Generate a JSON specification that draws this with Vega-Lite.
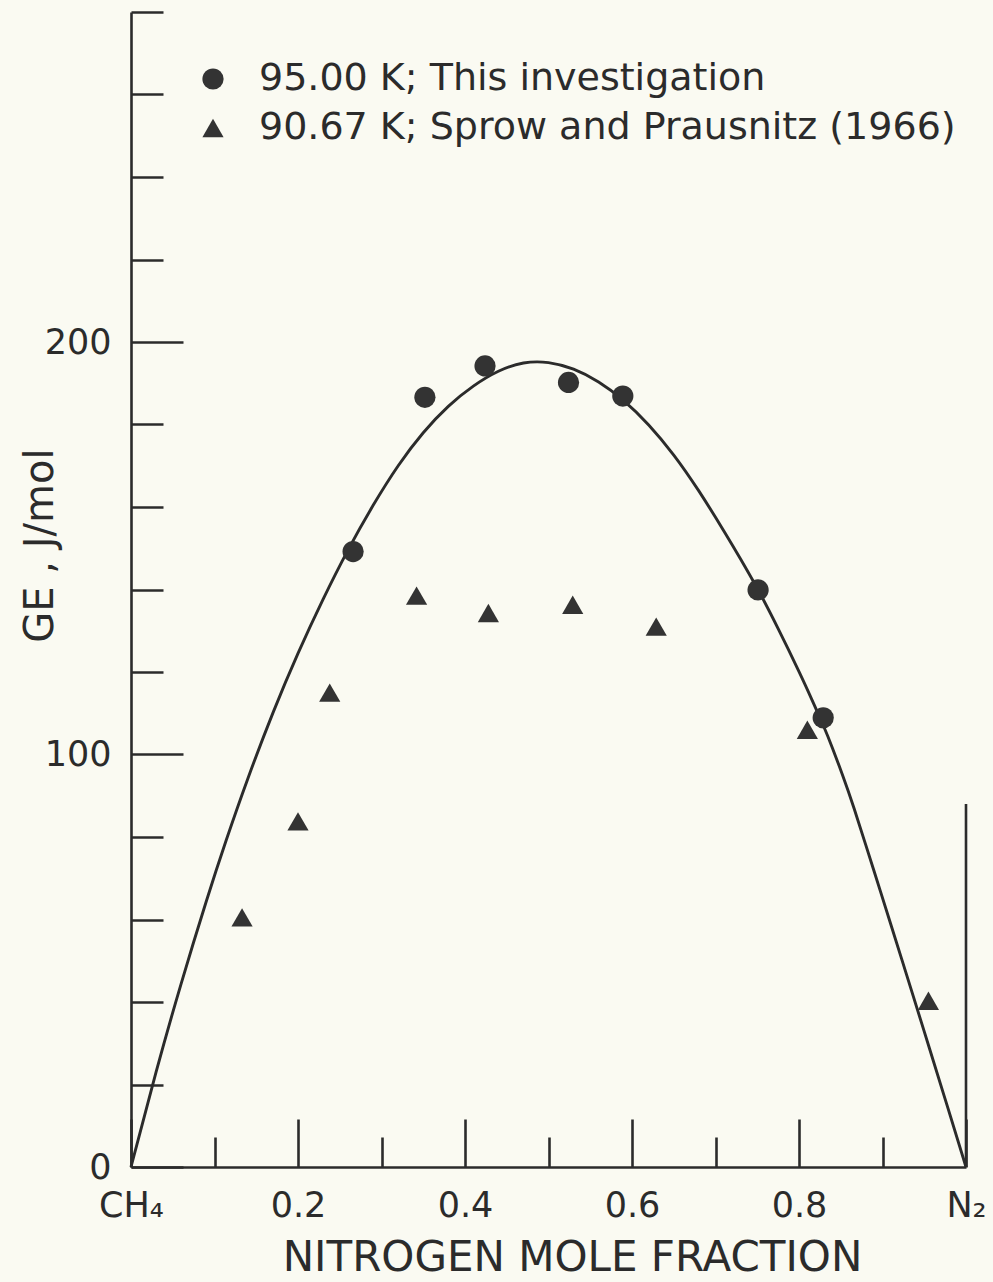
{
  "$schema": "https://vega.github.io/schema/vega-lite/v6.json",
  "width": 835,
  "height": 1155,
  "autosize": "none",
  "padding": {"left": 131, "top": 12, "right": 27, "bottom": 115},
  "background": "#fafaf2",
  "config": {
    "view": {"stroke": null},
    "font": "DejaVu Sans"
  },
  "datasets": {
    "curve": [
      {"x": 0, "g": 0},
      {"x": 0.03, "g": 23.0},
      {"x": 0.06, "g": 44.4},
      {"x": 0.09, "g": 64.3},
      {"x": 0.114, "g": 79.2},
      {"x": 0.14, "g": 94.2},
      {"x": 0.17, "g": 110.1},
      {"x": 0.2, "g": 124.5},
      {"x": 0.23, "g": 137.6},
      {"x": 0.26, "g": 149.6},
      {"x": 0.29, "g": 160.4},
      {"x": 0.32, "g": 170.0},
      {"x": 0.35, "g": 178.0},
      {"x": 0.38, "g": 184.4},
      {"x": 0.41, "g": 189.3},
      {"x": 0.44, "g": 192.9},
      {"x": 0.47, "g": 194.9},
      {"x": 0.5, "g": 195.0},
      {"x": 0.53, "g": 193.4},
      {"x": 0.56, "g": 190.3},
      {"x": 0.59, "g": 185.8},
      {"x": 0.62, "g": 179.9},
      {"x": 0.65, "g": 172.6},
      {"x": 0.68, "g": 163.9},
      {"x": 0.71, "g": 154.2},
      {"x": 0.73, "g": 147.4},
      {"x": 0.751, "g": 139.9},
      {"x": 0.775, "g": 130.5},
      {"x": 0.8, "g": 120.1},
      {"x": 0.815, "g": 113.5},
      {"x": 0.829, "g": 107.1},
      {"x": 0.84, "g": 101.6},
      {"x": 0.852, "g": 95.1},
      {"x": 0.866, "g": 86.9},
      {"x": 0.889, "g": 72.3},
      {"x": 0.91, "g": 58.8},
      {"x": 0.937, "g": 41.3},
      {"x": 0.956, "g": 28.9},
      {"x": 0.978, "g": 14.5},
      {"x": 1.0, "g": 0}
    ],
    "points": [
      {"series": "95.00 K; This investigation", "x": 0.266, "g": 149.2},
      {"series": "95.00 K; This investigation", "x": 0.352, "g": 186.6},
      {"series": "95.00 K; This investigation", "x": 0.424, "g": 194.2},
      {"series": "95.00 K; This investigation", "x": 0.524, "g": 190.2},
      {"series": "95.00 K; This investigation", "x": 0.589, "g": 186.9},
      {"series": "95.00 K; This investigation", "x": 0.751, "g": 139.9},
      {"series": "95.00 K; This investigation", "x": 0.829, "g": 108.9},
      {"series": "90.67 K; Sprow and Prausnitz (1966)", "x": 0.133, "g": 60.5},
      {"series": "90.67 K; Sprow and Prausnitz (1966)", "x": 0.2, "g": 83.8},
      {"series": "90.67 K; Sprow and Prausnitz (1966)", "x": 0.238, "g": 115.0},
      {"series": "90.67 K; Sprow and Prausnitz (1966)", "x": 0.342, "g": 138.5},
      {"series": "90.67 K; Sprow and Prausnitz (1966)", "x": 0.428, "g": 134.3},
      {"series": "90.67 K; Sprow and Prausnitz (1966)", "x": 0.529, "g": 136.3},
      {"series": "90.67 K; Sprow and Prausnitz (1966)", "x": 0.629, "g": 131.0},
      {"series": "90.67 K; Sprow and Prausnitz (1966)", "x": 0.81, "g": 106.0},
      {"series": "90.67 K; Sprow and Prausnitz (1966)", "x": 0.955, "g": 40.3}
    ],
    "frame": [{"x": 1, "y": 0, "y2": 88}]
  },
  "layer": [
    {
      "data": {"name": "curve"},
      "mark": {"type": "line", "interpolate": "natural", "color": "#2b2b2b", "strokeWidth": 2.9},
      "encoding": {
        "x": {
          "field": "x", "type": "quantitative",
          "scale": {"domain": [0, 1], "nice": false, "zero": false},
          "axis": {
            "values": [0, 0.1, 0.2, 0.3, 0.4, 0.5, 0.6, 0.7, 0.8, 0.9, 1],
            "grid": false,
            "domainColor": "#2b2b2b", "domainWidth": 2.6,
            "tickColor": "#2b2b2b", "tickWidth": 2.6,
            "tickSize": {"condition": {"test": "abs(datum.value*5 - round(datum.value*5)) < 0.001", "value": -48}, "value": -30},
            "labelExpr": "datum.value == 0 ? 'CH₄' : (datum.value == 1 ? 'N₂' : (abs(datum.value*5 - round(datum.value*5)) < 0.001 ? format(datum.value, '.1f') : ''))",
            "labelFont": "DejaVu Sans", "labelFontSize": 35, "labelColor": "#2b2b2b",
            "labelBaseline": "middle", "labelPadding": 86,
            "labelFlush": false, "labelOverlap": false, "labelBound": false,
            "title": "NITROGEN MOLE FRACTION",
            "titleFont": "DejaVu Sans", "titleFontSize": 42, "titleFontWeight": "normal", "titleColor": "#2b2b2b",
            "titleX": 441, "titleY": 103, "titleBaseline": "alphabetic", "titleAlign": "center", "titleAnchor": null
          }
        },
        "y": {
          "field": "g", "type": "quantitative",
          "scale": {"domain": [0, 280], "nice": false},
          "axis": {
            "values": [0, 20, 40, 60, 80, 100, 120, 140, 160, 180, 200, 220, 240, 260, 280],
            "grid": false,
            "domainColor": "#2b2b2b", "domainWidth": 2.6,
            "tickColor": "#2b2b2b", "tickWidth": 2.6,
            "tickSize": {"condition": {"test": "datum.value % 100 == 0", "value": -52}, "value": -32},
            "labelExpr": "datum.value % 100 == 0 ? datum.label : ''",
            "labelFont": "DejaVu Sans", "labelFontSize": 35, "labelColor": "#2b2b2b",
            "labelBaseline": "middle", "labelPadding": 72,
            "labelFlush": false, "labelOverlap": false, "labelBound": false,
            "title": "GE , J/mol",
            "titleFont": "DejaVu Sans", "titleFontSize": 40, "titleFontWeight": "normal", "titleColor": "#2b2b2b",
            "titleX": -91, "titleY": 533, "titleAngle": 270, "titleBaseline": "middle", "titleAlign": "center", "titleAnchor": null
          }
        }
      }
    },
    {
      "data": {"name": "frame"},
      "mark": {"type": "rule", "color": "#2b2b2b", "strokeWidth": 2.6},
      "encoding": {
        "x": {"field": "x", "type": "quantitative"},
        "y": {"field": "y", "type": "quantitative"},
        "y2": {"field": "y2"}
      }
    },
    {
      "data": {"name": "points"},
      "mark": {"type": "point", "filled": true, "opacity": 1, "color": "#333333", "size": 450},
      "encoding": {
        "x": {"field": "x", "type": "quantitative"},
        "y": {"field": "g", "type": "quantitative"},
        "shape": {
          "field": "series", "type": "nominal",
          "scale": {"domain": ["95.00 K; This investigation", "90.67 K; Sprow and Prausnitz (1966)"], "range": ["circle", "triangle-up"]},
          "legend": {
            "orient": "none", "legendX": 63, "legendY": 48,
            "title": null, "padding": 0,
            "symbolSize": 450, "symbolFillColor": "#333333", "symbolStrokeWidth": 0,
            "labelFont": "DejaVu Sans", "labelFontSize": 38, "labelColor": "#2b2b2b",
            "labelOffset": 27, "rowPadding": 11, "labelLimit": 900
          }
        }
      }
    }
  ]
}
